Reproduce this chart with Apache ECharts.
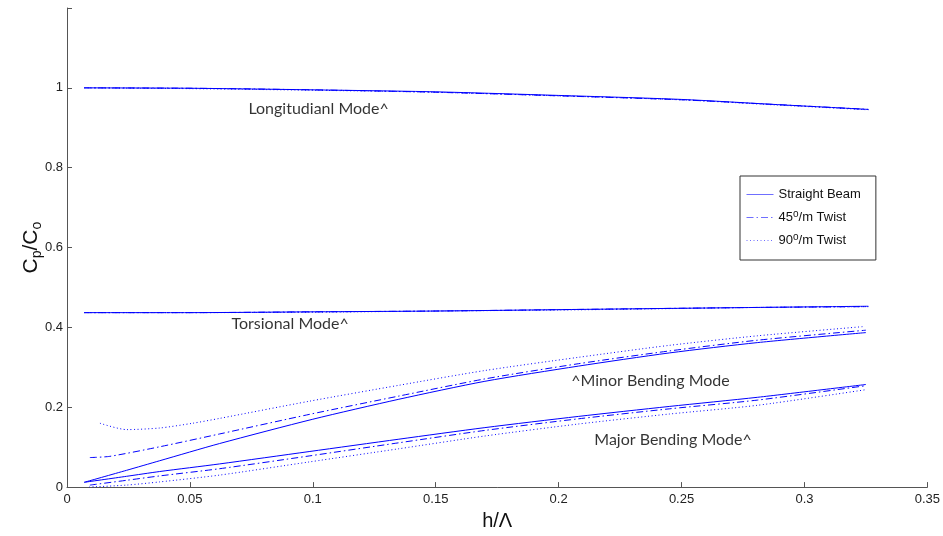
<!DOCTYPE html>
<html>
<head>
<meta charset="utf-8">
<script src="https://cdn.jsdelivr.net/npm/echarts@6/dist/echarts.min.js"></script>
<style>html,body{margin:0;padding:0;background:#fff}#c{width:943px;height:536px}</style>
</head>
<body>
<div id="c"></div>
<script>
// ---- data ----
const seriesNames = ['Straight Beam', '45°/m Twist', '90°/m Twist'];

// Longitudinal mode
const longX = [0.007, 0.05, 0.1, 0.15, 0.2, 0.25, 0.289, 0.326];
const longStraight = [1.000, 0.999, 0.995, 0.990, 0.981, 0.971, 0.958, 0.946];
const long45 = [1.000, 0.999, 0.995, 0.989, 0.980, 0.970, 0.958, 0.946];
const long90 = [1.000, 0.998, 0.994, 0.989, 0.980, 0.970, 0.957, 0.945];

// Torsional mode
const torsX = [0.007, 0.05, 0.1, 0.15, 0.208, 0.281, 0.326];
const torsStraight = [0.437, 0.437, 0.439, 0.441, 0.445, 0.450, 0.453];
const tors45 = [0.437, 0.437, 0.439, 0.441, 0.445, 0.450, 0.452];
const tors90 = [0.437, 0.437, 0.438, 0.441, 0.444, 0.450, 0.452];

// Minor bending mode
const minorStraightX = [0.007, 0.0242, 0.0377, 0.062, 0.1, 0.135, 0.17, 0.208, 0.245, 0.281, 0.325];
const minorStraight = [0.012, 0.042, 0.066, 0.109, 0.170, 0.220, 0.265, 0.303, 0.336, 0.362, 0.387];
const minor45X = [0.0093, 0.0174, 0.0377, 0.062, 0.0985, 0.135, 0.17, 0.208, 0.245, 0.281, 0.325];
const minor45 = [0.074, 0.077, 0.101, 0.133, 0.182, 0.228, 0.271, 0.309, 0.341, 0.368, 0.393];
const minor90X = [0.0134, 0.0242, 0.0377, 0.0512, 0.062, 0.0985, 0.135, 0.17, 0.208, 0.245, 0.281, 0.324];
const minor90 = [0.160, 0.144, 0.148, 0.160, 0.172, 0.215, 0.255, 0.292, 0.325, 0.355, 0.379, 0.402];

// Major bending mode
const majorStraightX = [0.007, 0.0242, 0.0377, 0.062, 0.0985, 0.135, 0.17, 0.208, 0.245, 0.281, 0.325];
const majorStraight = [0.012, 0.027, 0.039, 0.058, 0.089, 0.120, 0.149, 0.177, 0.202, 0.225, 0.257];
const major45X = [0.0093, 0.0242, 0.0377, 0.062, 0.0985, 0.135, 0.17, 0.208, 0.245, 0.281, 0.325];
const major45 = [0.005, 0.017, 0.028, 0.046, 0.078, 0.111, 0.142, 0.171, 0.196, 0.218, 0.254];
const major90X = [0.009, 0.0242, 0.0377, 0.062, 0.0985, 0.135, 0.17, 0.208, 0.245, 0.281, 0.325];
const major90 = [0.000, 0.005, 0.013, 0.030, 0.063, 0.096, 0.128, 0.158, 0.183, 0.205, 0.244];

// Annotations (data coordinates of left edge / vertical middle)
const annoText = ['Longitudianl Mode^', 'Torsional Mode^', '^Minor Bending Mode', 'Major Bending Mode^'];
const annoX = [0.0738, 0.0669, 0.2051, 0.2145];
const annoY = [0.948, 0.408, 0.267, 0.119];

// Axis ticks
const xMin = 0, xMax = 0.35, xStep = 0.05;
const yMin = 0, yMax = 1.2, yStep = 0.2;

// ---- build ----
const zip = (xs, ys) => xs.map((x, i) => [x, ys[i]]);
const styles = [
  { type: 'solid' },
  { type: [7, 3, 1.5, 3] },
  { type: [1, 2.5] }
];
const groups = [
  [zip(longX, longStraight), zip(longX, long45), zip(longX, long90)],
  [zip(torsX, torsStraight), zip(torsX, tors45), zip(torsX, tors90)],
  [zip(minorStraightX, minorStraight), zip(minor45X, minor45), zip(minor90X, minor90)],
  [zip(majorStraightX, majorStraight), zip(major45X, major45), zip(major90X, major90)]
];
const series = [];
groups.forEach(g => {
  g.forEach((d, k) => {
    series.push({
      name: seriesNames[k],
      type: 'line',
      data: d,
      symbol: 'none',
      smooth: 0.25,
      silent: true,
      lineStyle: Object.assign({ color: '#0000ff', width: 1 }, styles[k]),
      itemStyle: { color: '#0000ff' }
    });
  });
});
series.push({
  name: 'annotations',
  type: 'scatter',
  symbolSize: 0,
  silent: true,
  data: annoText.map((t, i) => ({ name: t, value: [annoX[i], annoY[i]] })),
  label: {
    show: true,
    position: 'right',
    distance: 0,
    formatter: '{b}',
    color: '#000',
    fontFamily: 'Lato',
    fontSize: 16,
    align: 'left',
    verticalAlign: 'middle'
  }
});

const axisFont = { color: '#222', fontSize: 13, fontFamily: 'Liberation Sans, Arial' };
const chart = echarts.init(document.getElementById('c'));
chart.setOption({
  animation: false,
  backgroundColor: '#fff',
  grid: { left: 67, right: 13, top: 8, bottom: 43, containLabel: false },
  legend: {
    data: seriesNames,
    orient: 'vertical',
    left: 740,
    top: 176,
    padding: [12, 15, 13, 6],
    itemWidth: 27,
    itemHeight: 14,
    itemGap: 8,
    selectedMode: false,
    borderColor: '#333',
    borderWidth: 1,
    backgroundColor: '#fff',
    itemStyle: { opacity: 0 },
    lineStyle: { width: 1, color: '#6f6fff' },
    formatter: n => n.replace('°', '{sup|o}'),
    textStyle: {
      color: '#111', fontSize: 13, fontFamily: 'Liberation Sans, Arial',
      rich: { sup: { fontSize: 10, padding: [0, 0, 7, 0], color: '#111', fontFamily: 'Liberation Sans, Arial' } }
    }
  },
  xAxis: {
    type: 'value', min: xMin, max: xMax, interval: xStep,
    name: 'h/Λ', nameLocation: 'middle', nameGap: 17,
    nameTextStyle: { fontSize: 20, color: '#111', fontFamily: 'Liberation Sans, Arial' },
    axisLine: { show: true, lineStyle: { color: '#555', width: 1 } },
    axisTick: { show: true, inside: true, length: 5, lineStyle: { color: '#555' } },
    axisLabel: Object.assign({ margin: 6 }, axisFont),
    splitLine: { show: false }
  },
  yAxis: {
    type: 'value', min: yMin, max: yMax, interval: yStep,
    name: '{b|C}{s|p}{b|/C}{s|o}', nameLocation: 'middle', nameGap: 23, nameRotate: 90,
    nameMoveOverlap: false,
    nameTextStyle: {
      color: '#111',
      rich: {
        b: { fontSize: 21, color: '#111', fontFamily: 'Liberation Sans, Arial' },
        s: { fontSize: 14, color: '#111', padding: [11, 0, 0, 0], fontFamily: 'Liberation Sans, Arial' }
      }
    },
    axisLine: { show: true, lineStyle: { color: '#555', width: 1 } },
    axisTick: { show: true, inside: true, length: 5, lineStyle: { color: '#555' } },
    axisLabel: Object.assign({ margin: 4, formatter: v => (v > 1.05 ? '' : String(+v.toFixed(2))) }, axisFont),
    splitLine: { show: false }
  },
  series: series
});
</script>
</body>
</html>
